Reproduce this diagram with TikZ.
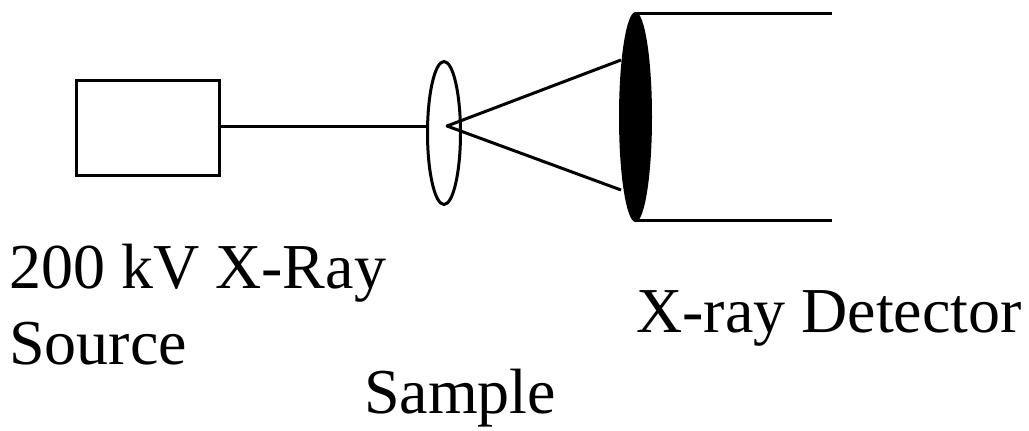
\documentclass[tikz,border=0pt]{standalone}
\usepackage{fontspec}
\usetikzlibrary{shapes.geometric}
\setmainfont{Liberation Serif}
\tikzset{lab/.style={inner sep=0pt,anchor=base west,font=\fontsize{64}{70}\selectfont},
ln/.style={line width=3pt,black}}
\begin{document}
\begin{tikzpicture}[x=1pt,y=-1pt]
\useasboundingbox (0,0) rectangle (1029,431);
\node[draw,ln,minimum width=143pt,minimum height=95pt,inner sep=0pt] (src) at (147.5,127.5) {};
\node[draw,ln,ellipse,minimum width=33pt,minimum height=143pt,inner sep=0pt] (smp) at (444,133) {};
\coordinate (focus) at (447,126);
\draw[ln] (src.east|-focus) -- (smp.west|-focus);
\coordinate (ct) at (621,60);
\coordinate (cb) at (621,190);
\draw[ln,line join=round] (ct) -- (focus) -- (cb);
\node[fill=black,draw=none,ellipse,minimum width=33pt,minimum height=210pt,inner sep=0pt] (det) at (635.5,117) {};
\coordinate (t2) at (832,13);
\coordinate (b2) at (832,220);
\draw[ln] (det.north|-t2) -- (t2);
\draw[ln] (det.south|-b2) -- (b2);
\node[lab] (l1) at (9,288) {200 kV X-Ray};
\node[lab] (l2) at (9,364) {Source};
\node[lab] (l3) at (636,332) {X-ray Detector};
\node[lab] (l4) at (364,413) {Sample};
\end{tikzpicture}
\end{document}
